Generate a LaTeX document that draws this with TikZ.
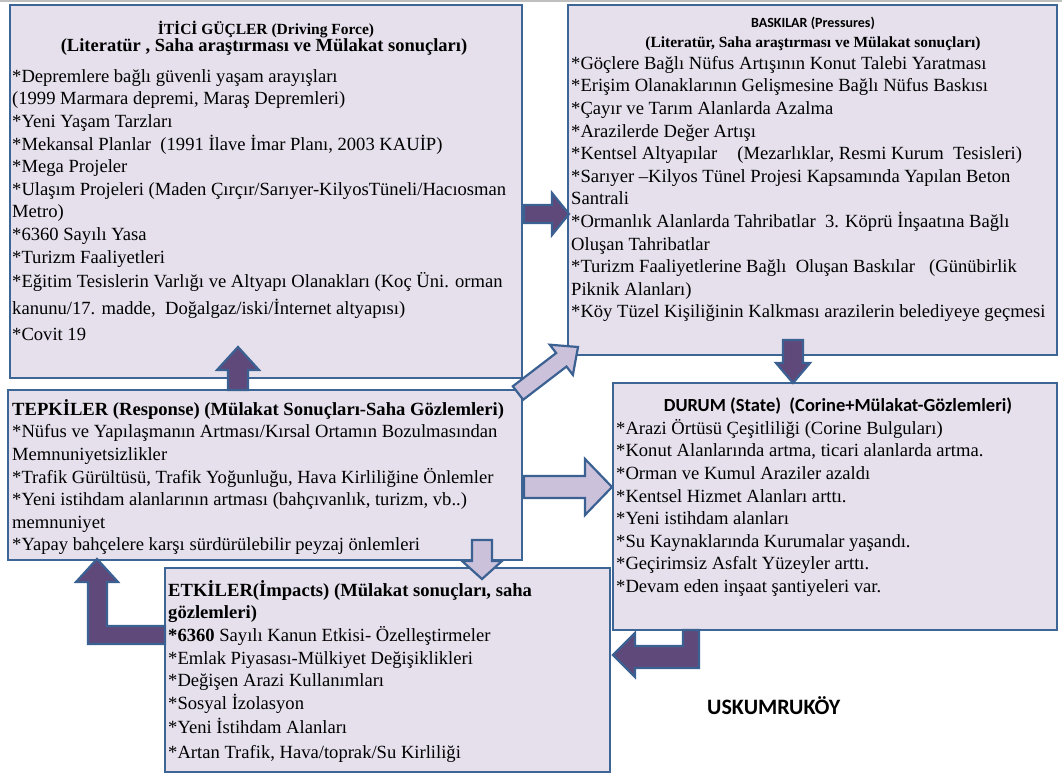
\documentclass[tikz,border=0pt]{standalone}
\usepackage{fontspec}
\setmainfont{Liberation Serif}
\newfontfamily\headsans{Carlito}
\usetikzlibrary{calc}

\definecolor{panelfill}{HTML}{E5E0EC}
\definecolor{panelline}{HTML}{3D6595}
\definecolor{arrowdark}{HTML}{5F497A}
\definecolor{arrowlight}{HTML}{CCC1DA}
\definecolor{arrowline}{HTML}{3B6193}

% block arrow: #1 style, #2 start, #3 tip, #4 half stem width,
% #5 half head width, #6 head length
\newcommand\blockarrow[6]{%
  \path[#1] let \p1=#2, \p2=#3,
    \n1={atan2(\y2-\y1,\x2-\x1)}, \n2={veclen(\x2-\x1,\y2-\y1)} in
    [shift={(\p1)}, rotate=\n1]
    (0,-#4) -- ({\n2-#6},-#4) -- ({\n2-#6},-#5) -- (\n2,0)
    -- ({\n2-#6},#5) -- ({\n2-#6},#4) -- (0,#4) -- cycle;}

\begin{document}
\begin{tikzpicture}[x=1pt,y=-1pt,
  panel/.style={draw=panelline, fill=panelfill, line width=2.6pt,
    anchor=north west, inner sep=0pt, outer sep=0pt},
  bodytext/.style={anchor=north west, align=left, inner sep=0pt,
    font=\fontsize{18.6}{22.6}\selectfont},
  serifhead/.style={anchor=base, inner sep=0pt, font=\bfseries\fontsize{#1}{22}\selectfont},
  sanshead/.style={anchor=base, inner sep=0pt, font=\headsans\bfseries\fontsize{#1}{22}\selectfont},
  darkarr/.style={draw=arrowline, fill=arrowdark, line width=2.2pt, line join=miter},
  lightarr/.style={draw=arrowline, fill=arrowlight, line width=2.2pt, line join=miter}]

\fill[white] (0,0) rectangle (1062,776);
\useasboundingbox (0,0) rectangle (1062,776);
\draw[gray!50, line width=1.5pt] (0,1) -- (1062,1);

% the five panels of the DPSIR chain
\node[panel, minimum width=512pt, minimum height=373pt] (drv) at (10,5) {};
\node[panel, minimum width=489pt, minimum height=350pt] (prs) at (568,5) {};
\node[panel, minimum width=514pt, minimum height=170pt] (tep) at (8,390) {};
\node[panel, minimum width=444pt, minimum height=247pt] (sta) at (613,383) {};
\node[panel, minimum width=445pt, minimum height=204pt] (imp) at (165,568) {};

% driving forces
\node[serifhead=15.5] (drvtitle) at (266,35) {İTİCİ GÜÇLER (Driving Force)};
\node[serifhead=18.5] (drvsub) at (264,52) {(Literatür , Saha araştırması ve Mülakat sonuçları)};
\node[bodytext] (drvtext) at (12,66.2) {\strut*Depremlere bağlı güvenli yaşam arayışları\\
(1999 Marmara depremi, Maraş Depremleri)\\
{}*Yeni Yaşam Tarzları\\
{}*Mekansal Planlar\ \ (1991 İlave İmar Planı, 2003 KAUİP)\\
{}*Mega Projeler\\
{}*Ulaşım Projeleri (Maden Çırçır/Sarıyer-KilyosTüneli/Hacıosman\\
Metro)\\
{}*6360 Sayılı Yasa\\
{}*Turizm Faaliyetleri\\[1.4pt]
{}*Eğitim Tesislerin Varlığı ve Altyapı Olanakları (Koç Üni. orman\\[4.4pt]
kanunu/17. madde,\ \ Doğalgaz/iski/İnternet altyapısı)\\[3.4pt]
{}*Covit 19};

% pressures
\node[sanshead=14] (prstitle) at (813,28) {BASKILAR (Pressures)};
\node[serifhead=15.5] (prssub) at (813,48) {(Literatür, Saha araştırması ve Mülakat sonuçları)};
\node[bodytext] (prstext) at (571,53.2) {\strut*Göçlere Bağlı Nüfus Artışının Konut Talebi Yaratması\\
{}*Erişim Olanaklarının Gelişmesine Bağlı Nüfus Baskısı\\
{}*Çayır ve Tarım Alanlarda Azalma\\
{}*Arazilerde Değer Artışı\\
{}*Kentsel Altyapılar\hspace{20pt}(Mezarlıklar, Resmi Kurum\ \ Tesisleri)\\
{}*Sarıyer –Kilyos Tünel Projesi Kapsamında Yapılan Beton\\
Santrali\\
{}*Ormanlık Alanlarda Tahribatlar\ \ 3. Köprü İnşaatına Bağlı\\
Oluşan Tahribatlar\\
{}*Turizm Faaliyetlerine Bağlı\ \ Oluşan Baskılar\hspace{14pt}(Günübirlik\\
Piknik Alanları)\\
{}*Köy Tüzel Kişiliğinin Kalkması arazilerin belediyeye geçmesi};

% responses
\node[bodytext] (teptext) at (12,399.2) {\strut\textbf{TEPKİLER (Response) (Mülakat Sonuçları-Saha Gözlemleri)}\\
{}*Nüfus ve Yapılaşmanın Artması/Kırsal Ortamın Bozulmasından\\
Memnuniyetsizlikler\\
{}*Trafik Gürültüsü, Trafik Yoğunluğu, Hava Kirliliğine Önlemler\\
{}*Yeni istihdam alanlarının artması (bahçıvanlık, turizm, vb..)\\
memnuniyet\\
{}*Yapay bahçelere karşı sürdürülebilir peyzaj önlemleri};

% state
\node[sanshead=18.5] (statitle) at (838,411) {DURUM (State)\ \ (Corine+Mülakat-Gözlemleri)};
\node[bodytext] (statext) at (616,418.2) {\strut*Arazi Örtüsü Çeşitliliği (Corine Bulguları)\\
{}*Konut Alanlarında artma, ticari alanlarda artma.\\
{}*Orman ve Kumul Araziler azaldı\\
{}*Kentsel Hizmet Alanları arttı.\\
{}*Yeni istihdam alanları\\
{}*Su Kaynaklarında Kurumalar yaşandı.\\
{}*Geçirimsiz Asfalt Yüzeyler arttı.\\
{}*Devam eden inşaat şantiyeleri var.};

% impacts
\node[bodytext] (imptext) at (168,580.2) {\strut\textbf{ETKİLER(İmpacts) (Mülakat sonuçları, saha}\\
\textbf{gözlemleri)}\\
\textbf{*6360} Sayılı Kanun Etkisi- Özelleştirmeler\\
{}*Emlak Piyasası-Mülkiyet Değişiklikleri\\
{}*Değişen Arazi Kullanımları\\
{}*Sosyal İzolasyon\\[2pt]
{}*Yeni İstihdam Alanları\\[2pt]
{}*Artan Trafik, Hava/toprak/Su Kirliliği};

\node[anchor=base west, inner sep=0pt, font=\headsans\bfseries\fontsize{22}{26}\selectfont] (site) at (707,714) {USKUMRUKÖY};

% connectors between the panels
\blockarrow{darkarr}{($(tep.north west)+(230,0)$)}{($(drv.south west)+(228,-31)$)}{10}{21}{23}
\blockarrow{darkarr}{($(drv.north east)+(2,209)$)}{($(prs.north west)+(1,209)$)}{9}{21}{17}
\blockarrow{lightarr}{($(tep.north east)+(-4,3)$)}{($(prs.south west)+(10,-8)$)}{8.5}{19}{21}
\blockarrow{lightarr}{($(tep.north east)+(2,97)$)}{($(sta.north west)+(-1,104)$)}{11}{28}{27}
\blockarrow{lightarr}{($(tep.south west)+(474,-20)$)}{($(imp.north west)+(317,11)$)}{10}{20}{18}
\blockarrow{darkarr}{($(prs.south west)+(225,-15)$)}{($(sta.north west)+(180,0)$)}{10}{17}{20}

% bent arrow from impacts back up to responses
\draw[darkarr] ($(imp.north west)+(0,58)$) -- ++(-58,0) -- ++(0,-44) -- ++(11,0)
  -- ($(tep.south west)+(89,-1)$) -- ++(-21,23) -- ++(12,0) -- ++(0,62)
  -- ($(imp.north west)+(0,76)$) -- cycle;

% bent arrow from state to impacts
\draw[darkarr] ($(sta.south west)+(86,0)$) -- ++(0,38) -- ++(-64,0) -- ++(0,9)
  -- ($(imp.north east)+(3,87)$) -- ++(22,-22) -- ++(0,13) -- ++(48,0)
  -- ++(0,-16) -- cycle;

\end{tikzpicture}
\end{document}
